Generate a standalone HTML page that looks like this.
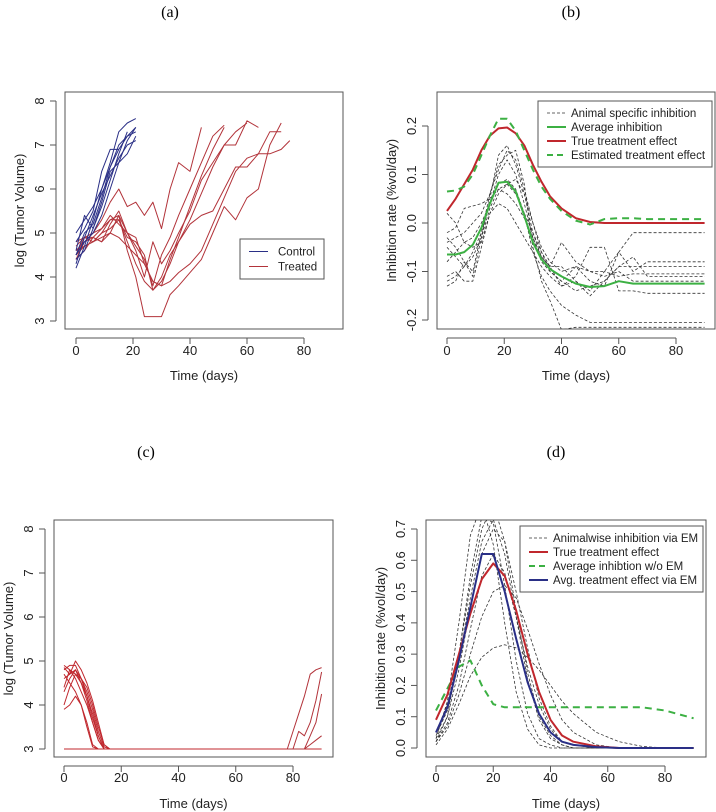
<!DOCTYPE html>
<html><head><meta charset="utf-8">
<style>
html,body{margin:0;padding:0;background:#fff;}
svg{display:block;font-family:"Liberation Sans",sans-serif;}
.t{font-family:"Liberation Serif",serif;font-size:16px;fill:#000;}
.tick{font-size:13px;fill:#222;}
.lab{font-size:13px;fill:#222;}
.leg{font-size:11.5px;fill:#222;}
</style></head>
<body>
<svg id="fig" width="716" height="812" viewBox="0 0 716 812">
<text class="t" x="170" y="17" text-anchor="middle">(a)</text>
<text class="t" x="571" y="17" text-anchor="middle">(b)</text>
<text class="t" x="146" y="457" text-anchor="middle">(c)</text>
<text class="t" x="556" y="457" text-anchor="middle">(d)</text>
</svg>
<script>
// ---------- Panel (a) data ----------
const aCtrlDays=[0,3,6,9,12,15,18,21];
const aCtrl=[
[4.2,4.7,5.3,6.0,6.6,7.3,7.5,7.6],
[4.5,5.0,5.2,5.8,6.5,7.0,7.2,7.4],
[4.6,5.4,5.1,5.6,6.2,6.8,7.3,null],
[4.8,5.1,5.5,6.4,6.9,6.9,null,null],
[4.3,4.9,5.4,5.9,6.3,6.7,7.0,7.1],
[4.5,4.8,5.0,5.4,6.0,6.6,7.1,7.4],
[5.0,5.3,5.6,6.0,6.5,6.9,7.2,7.3],
[4.4,4.6,5.1,5.7,6.4,6.6,6.8,7.2]];
const aTrtDays=[0,3,6,9,12,15,18,21,24,27,30,33,36,40,44,48,52,56,60,64,68,72,75];
const aTrt=[
[4.5,4.9,5.0,5.3,5.7,6.0,5.6,5.7,5.4,5.7,5.1,6.0,6.6,6.4,7.4,null,null,null,null,null,null,null,null],
[4.4,4.6,4.9,5.1,5.4,5.2,5.0,4.7,4.4,3.8,4.5,4.9,5.4,6.0,6.6,7.2,7.45,null,null,null,null,null,null],
[4.7,4.9,4.8,5.0,5.3,5.3,4.9,4.8,4.5,3.7,4.0,4.5,4.8,5.3,5.9,6.5,7.0,7.0,7.55,7.4,null,null,null],
[4.6,4.7,4.8,4.9,5.0,5.4,4.6,4.0,3.1,3.1,3.1,3.6,3.8,4.1,4.4,5.0,5.6,5.3,5.8,6.0,7.0,7.5,null],
[4.4,4.8,4.9,4.8,5.0,4.9,4.7,4.5,4.3,3.9,3.8,3.9,4.1,4.3,4.6,5.2,5.8,6.4,6.7,6.8,6.8,6.9,7.1],
[4.6,4.8,5.0,5.1,5.3,5.4,5.0,4.6,4.0,4.8,4.3,4.6,5.0,5.5,6.2,6.6,7.0,7.3,7.5,null,null,null,null],
[4.5,4.7,4.8,5.0,5.1,5.3,4.8,4.3,3.9,3.7,3.9,4.3,4.8,5.2,5.4,5.5,6.0,6.5,6.5,6.8,7.3,7.3,null],
[4.8,4.9,4.9,4.8,5.2,5.5,5.0,4.9,4.3,3.9,3.8,4.4,4.9,5.6,6.3,6.9,7.4,null,null,null,null,null,null]];
const aXTicks=[0,20,40,60,80];
const aYTicks=[3,4,5,6,7,8];

// ---------- Panel (b) data ----------
const bDays=[0,3,6,9,12,15,18,21,24,27,30,33,36,40,45,50,55,60,65,70,80,90];
const bTrue=[0.025,0.05,0.08,0.11,0.15,0.18,0.195,0.197,0.185,0.16,0.12,0.085,0.055,0.03,0.01,0.002,0,0,0,0,0,0];
const bEst=[0.065,0.067,0.075,0.10,0.14,0.18,0.215,0.215,0.19,0.15,0.11,0.075,0.05,0.025,0.005,-0.003,0.008,0.01,0.01,0.008,0.008,0.008];
const bAvg=[-0.065,-0.065,-0.06,-0.045,-0.01,0.04,0.083,0.085,0.065,0.015,-0.04,-0.075,-0.095,-0.11,-0.125,-0.132,-0.13,-0.12,-0.125,-0.125,-0.125,-0.125];
const bAnimals=[
[-0.03,-0.05,-0.08,-0.11,-0.03,0.05,0.14,0.16,0.12,0.06,-0.02,-0.07,-0.09,-0.13,-0.11,-0.05,-0.05,-0.14,-0.14,-0.145,-0.145,-0.145],
[-0.13,-0.12,-0.08,-0.10,-0.02,0.06,0.12,0.14,0.15,0.08,-0.05,-0.12,-0.16,-0.22,-0.215,-0.215,-0.215,-0.215,-0.215,-0.215,-0.215,-0.215],
[0.02,0.0,-0.04,-0.03,0.0,0.04,0.08,0.09,0.07,0.02,-0.06,-0.11,-0.14,-0.17,-0.19,-0.205,-0.205,-0.205,-0.205,-0.205,-0.205,-0.205],
[-0.02,-0.01,0.03,0.035,0.04,0.05,0.07,0.06,0.04,0.01,-0.03,-0.07,-0.09,-0.04,-0.08,-0.1,-0.1,-0.06,-0.1,-0.08,-0.08,-0.08],
[-0.11,-0.10,-0.12,-0.12,-0.05,0.02,0.04,0.03,0.0,-0.03,-0.06,-0.09,-0.11,-0.13,-0.12,-0.15,-0.12,-0.09,-0.07,-0.11,-0.11,-0.11],
[-0.05,-0.07,-0.09,-0.06,-0.02,0.04,0.10,0.13,0.10,0.04,-0.03,-0.08,-0.10,-0.12,-0.09,-0.12,-0.13,-0.06,-0.02,-0.02,-0.02,-0.02],
[-0.08,-0.06,-0.04,-0.05,-0.04,0.02,0.06,0.08,0.06,0.02,-0.02,-0.06,-0.09,-0.09,-0.12,-0.14,-0.1,-0.11,-0.105,-0.105,-0.105,-0.105],
[-0.12,-0.11,-0.09,-0.07,-0.03,0.03,0.07,0.08,0.09,0.06,0.0,-0.06,-0.1,-0.12,-0.14,-0.13,-0.12,-0.09,-0.09,-0.09,-0.09,-0.09],
[-0.04,-0.03,-0.02,0.0,0.02,0.06,0.11,0.15,0.13,0.07,0.0,-0.05,-0.08,-0.1,-0.09,-0.1,-0.11,-0.1,-0.12,-0.12,-0.12,-0.12]];
const bXTicks=[0,20,40,60,80];
const bYTicks=[-0.2,-0.1,0.0,0.1,0.2];
const bYLabels=["-0.2","-0.1","0.0","0.1","0.2"];

// ---------- Panel (c) data ----------
const cEarlyDays=[0,2,4,6,8,10,12,14,16,18];
const cEarly=[
[4.9,4.8,4.7,4.5,4.2,3.8,3.3,3.0,3.0,3.0],
[4.8,4.9,4.9,4.6,4.4,4.0,3.5,3.1,3.0,3.0],
[4.3,4.6,4.8,4.5,4.1,3.6,3.2,3.0,3.0,3.0],
[3.9,4.0,4.2,4.0,3.6,3.1,3.0,3.0,3.0,3.0],
[4.6,4.7,5.0,4.8,4.5,4.1,3.6,3.1,3.0,3.0],
[4.4,4.8,4.6,4.3,4.0,3.6,3.2,3.0,3.0,3.0],
[4.7,4.5,4.3,4.0,3.5,3.05,3.0,3.0,3.0,3.0],
[4.0,4.4,4.7,4.6,4.2,3.7,3.3,3.0,3.0,3.0],
[4.85,4.7,4.8,4.6,4.3,3.9,3.4,3.05,3.0,3.0]];
const cFlatDays=[0,90];
const cFlat=[3,3];
const cLateDays=[78,80,82,84,86,88,90];
const cLate=[
[3.0,3.4,3.8,4.2,4.7,4.8,4.85],
[3.0,3.0,3.4,3.3,3.6,4.1,4.75],
[3.0,3.0,3.0,3.0,3.3,3.6,4.25],
[3.0,3.0,3.0,3.0,3.1,3.2,3.3]];
const cXTicks=[0,20,40,60,80];
const cYTicks=[3,4,5,6,7,8];

// ---------- Panel (d) data ----------
const dDays=[0,4,8,12,16,20,24,28,32,36,40,44,48,56,64,72,80,90];
const dTrue=[0.09,0.17,0.30,0.43,0.54,0.59,0.55,0.44,0.30,0.18,0.09,0.04,0.02,0.005,0,0,0,0];
const dEM=[0.05,0.13,0.28,0.45,0.62,0.62,0.50,0.35,0.21,0.11,0.05,0.02,0.01,0.003,0,0,0,0];
const dNoEM=[0.12,0.19,0.26,0.28,0.20,0.14,0.13,0.13,0.13,0.13,0.13,0.13,0.13,0.13,0.13,0.13,0.12,0.095];
const dAnimals=[
[0.01,0.06,0.14,0.23,0.29,0.32,0.33,0.32,0.29,0.25,0.20,0.15,0.11,0.05,0.02,0.005,0,0],
[0.02,0.07,0.17,0.30,0.42,0.50,0.52,0.48,0.38,0.27,0.17,0.09,0.05,0.01,0,0,0,0],
[0.03,0.15,0.40,0.68,0.78,0.65,0.40,0.18,0.06,0.01,0,0,0,0,0,0,0,0],
[0.02,0.10,0.30,0.55,0.74,0.72,0.52,0.28,0.11,0.03,0.01,0,0,0,0,0,0,0],
[0.04,0.12,0.28,0.48,0.66,0.73,0.62,0.42,0.22,0.09,0.03,0.01,0,0,0,0,0,0],
[0.03,0.10,0.25,0.45,0.62,0.70,0.66,0.50,0.32,0.16,0.07,0.02,0.01,0,0,0,0,0],
[0.05,0.14,0.30,0.52,0.70,0.78,0.66,0.44,0.24,0.10,0.04,0.01,0,0,0,0,0,0],
[0.02,0.08,0.20,0.38,0.55,0.62,0.56,0.42,0.26,0.14,0.06,0.02,0.01,0,0,0,0,0]];
const dXTicks=[0,20,40,60,80];
const dYTicks=[0,0.1,0.2,0.3,0.4,0.5,0.6,0.7];
const dYLabels=["0.0","0.1","0.2","0.3","0.4","0.5","0.6","0.7"];

const NS="http://www.w3.org/2000/svg";
const svg=document.getElementById('fig');
function mk(tag,attrs,parent){const e=document.createElementNS(NS,tag);for(const k in attrs)e.setAttribute(k,attrs[k]);(parent||svg).appendChild(e);return e;}

function panel(id,box,xs,ys,xTicks,yTicks,yLabels,ylab,lblOff,titleOff){
  const g=mk('g',{});
  
  
  const cp=mk('clipPath',{id:id+'-clip'},g);
  mk('rect',{x:box.x0,y:box.y0,width:box.x1-box.x0,height:box.y1-box.y0},cp);
  const frame=mk('rect',{x:box.x0,y:box.y0,width:box.x1-box.x0,height:box.y1-box.y0,fill:'none',stroke:'#555','stroke-width':1},g);
  
  
  const xa=mk('g',{},g);
  
  
  const tb=box.y1+9;
  mk('line',{x1:xs(xTicks[0]),x2:xs(xTicks[xTicks.length-1]),y1:tb,y2:tb,stroke:'#555'},xa);
  xTicks.forEach(t=>{
    mk('line',{x1:xs(t),x2:xs(t),y1:tb,y2:tb+6,stroke:'#555'},xa);
    const tx=mk('text',{x:xs(t),y:tb+lblOff,'text-anchor':'middle',class:'tick'},xa);
    tx.textContent=t;
    
    
  });
  const xl=mk('text',{x:(box.x0+box.x1)/2,y:tb+titleOff,'text-anchor':'middle',class:'lab'},g);
  xl.textContent='Time (days)';
  
  
  const ya=mk('g',{},g);
  
  
  const lb=box.x0-9;
  mk('line',{x1:lb,x2:lb,y1:ys(yTicks[0]),y2:ys(yTicks[yTicks.length-1]),stroke:'#555'},ya);
  yTicks.forEach((t,i)=>{
    mk('line',{x1:lb,x2:lb-6,y1:ys(t),y2:ys(t),stroke:'#555'},ya);
    const tx=mk('text',{x:lb-12,y:ys(t),'text-anchor':'middle',class:'tick',transform:`rotate(-90 ${lb-12} ${ys(t)})`},ya);
    tx.textContent=yLabels?yLabels[i]:t;
    
    
  });
  const yx=lb-32, ym=(box.y0+box.y1)/2;
  const yl=mk('text',{x:yx,y:ym,'text-anchor':'middle',class:'lab',transform:`rotate(-90 ${yx} ${ym})`},g);
  yl.textContent=ylab;
  
  
  const plot=mk('g',{'clip-path':`url(#${id}-clip)`},g);
  return {g,plot};
}
function line(parent,days,vals,xs,ys,style,name){
  let d='',pen=false;
  days.forEach((t,i)=>{const v=vals[i];if(v===null||v===undefined){pen=false;return;}d+=(pen?'L':'M')+xs(t).toFixed(1)+','+ys(v).toFixed(1);pen=true;});
  const p=mk('path',Object.assign({d,fill:'none','stroke-linejoin':'round'},style),parent);
  
  
  return p;
}
function legend(parent,x,y,w,h,items,name,tx){
  const lg=mk('g',{},parent);
  
  
  mk('rect',{x,y,width:w,height:h,fill:'#fff',stroke:'#555'},lg);
  const step=(h-10)/items.length;
  items.forEach((it,i)=>{
    const cy=y+5+step*(i+0.5);
    const e=mk('g',{},lg);
    
    
    mk('line',Object.assign({x1:x+9,x2:x+28,y1:cy,y2:cy},it.style),e);
    const t=mk('text',{x:x+tx,y:cy+4,class:'leg'},e);
    t.textContent=it.label;
  });
}

// Panel (a)
(function(){
  const box={x0:65,x1:343,y0:92,y1:329};
  const xs=t=>76+t*(304-76)/80, ys=v=>321-(v-3)*(321-101)/5;
  const P=panel('panel-a',box,xs,ys,aXTicks,aYTicks,null,'log (Tumor Volume)',17,42);
  aTrt.forEach(s=>line(P.plot,aTrtDays,s,xs,ys,{stroke:'#b2333a','stroke-width':1},'treated-line'));
  aCtrl.forEach(s=>line(P.plot,aCtrlDays,s,xs,ys,{stroke:'#2a2f86','stroke-width':1},'control-line'));
  legend(P.g,240,239,84,40,[
    {label:'Control',style:{stroke:'#2a2f86','stroke-width':1}},
    {label:'Treated',style:{stroke:'#b2333a','stroke-width':1}}],'legend',38);
})();

// Panel (b)
(function(){
  const box={x0:437,x1:715,y0:92,y1:329};
  const xs=t=>447+t*(676-447)/80, ys=v=>223-v*(320-126)/0.4;
  const P=panel('panel-b',box,xs,ys,bXTicks,bYTicks,bYLabels,'Inhibition rate (%vol/day)',17,42);
  bAnimals.forEach(s=>line(P.plot,bDays,s,xs,ys,{stroke:'#333','stroke-width':0.8,'stroke-dasharray':'3,2'},'animal-inhibition-line'));
  line(P.plot,bDays,bAvg,xs,ys,{stroke:'#3cb043','stroke-width':2},'average-inhibition-line');
  line(P.plot,bDays,bTrue,xs,ys,{stroke:'#c0272d','stroke-width':2},'true-effect-line');
  line(P.plot,bDays,bEst,xs,ys,{stroke:'#3cb043','stroke-width':2,'stroke-dasharray':'7,5'},'estimated-effect-line');
  legend(P.g,538,101,174,66,[
    {label:'Animal specific inhibition',style:{stroke:'#333','stroke-width':0.8,'stroke-dasharray':'3,2'}},
    {label:'Average inhibition',style:{stroke:'#3cb043','stroke-width':2}},
    {label:'True treatment effect',style:{stroke:'#c0272d','stroke-width':2}},
    {label:'Estimated treatment effect',style:{stroke:'#3cb043','stroke-width':2,'stroke-dasharray':'6,4'}}],'legend',33);
})();

// Panel (c)
(function(){
  const box={x0:54,x1:333,y0:520,y1:757};
  const xs=t=>64+t*(293-64)/80, ys=v=>749-(v-3)*(749-529)/5;
  const P=panel('panel-c',box,xs,ys,cXTicks,cYTicks,null,'log (Tumor Volume)',16,42);
  line(P.plot,cFlatDays,cFlat,xs,ys,{stroke:'#c0272d','stroke-width':1},'baseline-line');
  cEarly.forEach(s=>line(P.plot,cEarlyDays,s,xs,ys,{stroke:'#c0272d','stroke-width':1},'early-treated-line'));
  cLate.forEach(s=>line(P.plot,cLateDays,s,xs,ys,{stroke:'#b2333a','stroke-width':1},'regrowth-line'));
})();

// Panel (d)
(function(){
  const box={x0:426,x1:706,y0:520,y1:757};
  const xs=t=>436+t*(665-436)/80, ys=v=>748-v*(748-529)/0.7;
  const P=panel('panel-d',box,xs,ys,dXTicks,dYTicks,dYLabels,'Inhibition rate (%vol/day)',16,42);
  dAnimals.forEach(s=>line(P.plot,dDays,s,xs,ys,{stroke:'#333','stroke-width':0.8,'stroke-dasharray':'3,2'},'animalwise-inhibition-line'));
  line(P.plot,dDays,dNoEM,xs,ys,{stroke:'#3cb043','stroke-width':2,'stroke-dasharray':'7,5'},'average-no-em-line');
  line(P.plot,dDays,dTrue,xs,ys,{stroke:'#c0272d','stroke-width':2},'true-effect-line');
  line(P.plot,dDays,dEM,xs,ys,{stroke:'#2a2f86','stroke-width':2},'em-effect-line');
  legend(P.g,520,526,183,66,[
    {label:'Animalwise inhibition via EM',style:{stroke:'#333','stroke-width':0.8,'stroke-dasharray':'3,2'}},
    {label:'True treatment effect',style:{stroke:'#c0272d','stroke-width':2}},
    {label:'Average inhibtion w/o EM',style:{stroke:'#3cb043','stroke-width':2,'stroke-dasharray':'6,4'}},
    {label:'Avg. treatment effect via EM',style:{stroke:'#2a2f86','stroke-width':2}}],'legend',33);
})();
</script>
</body></html>
